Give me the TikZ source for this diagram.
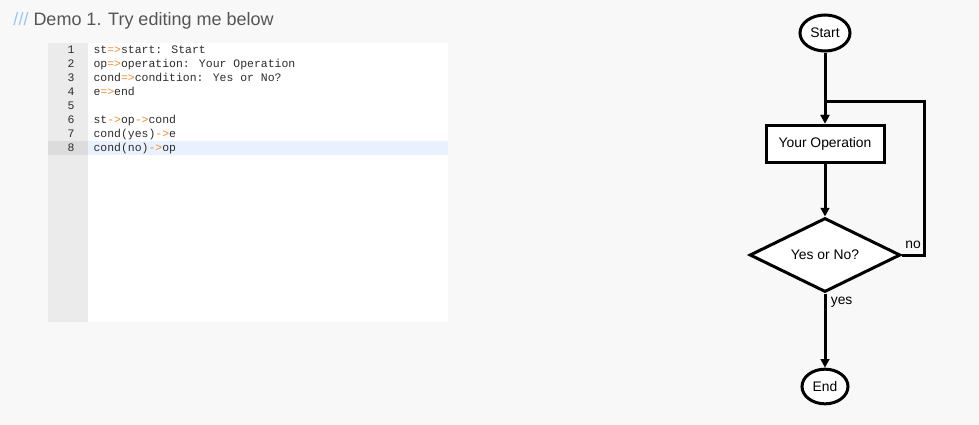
\documentclass[tikz,border=0pt]{standalone}
\usepackage{fontspec}
\usepackage{xcolor}
\usepackage{tikz}
\usetikzlibrary{shapes.geometric,arrows.meta}
\setmainfont{Liberation Sans}
\newfontfamily\codefont{Liberation Mono}

\definecolor{pagebg}{RGB}{248,248,248}
\definecolor{gutterbg}{RGB}{235,235,235}
\definecolor{guttersel}{RGB}{220,220,220}
\definecolor{linesel}{RGB}{232,242,254}
\definecolor{arrowop}{RGB}{240,140,40}
\definecolor{codetext}{RGB}{45,45,45}
\definecolor{slashblue}{RGB}{150,200,240}
\definecolor{titlegray}{RGB}{85,85,85}

\newcommand{\opc}[1]{\textcolor{arrowop}{#1}}

\begin{document}
\begin{tikzpicture}[x=0.75pt, y=-0.75pt, line width=2.25pt,
    flowline/.style={-{Triangle[length=6.5pt,width=6.5pt]}, line join=miter},
    terminal/.style={ellipse, draw, fill=white, inner sep=0pt, font=\fontsize{10.4}{12}\selectfont},
    process/.style={rectangle, draw, fill=white, inner sep=0pt, minimum width=88.5pt, minimum height=27.75pt, font=\fontsize{10.4}{12}\selectfont},
    decision/.style={diamond, draw, fill=white, aspect=2, inner sep=0pt, minimum width=113pt, minimum height=55.5pt, font=\fontsize{10.4}{12}\selectfont},
    edgelabel/.style={inner sep=1pt, font=\fontsize{10.4}{12}\selectfont},
    codeline/.style={anchor=west, inner sep=0pt, text height=6.5pt, text depth=2pt, text=codetext, font=\codefont\fontsize{8.6}{10}\selectfont},
    lineno/.style={codeline, anchor=east}]
    % Fondo
    \fill[pagebg] (0,0) rectangle (979,425);
    \useasboundingbox (0,0) rectangle (979,425);

    % Titulo
    \node[anchor=west, inner sep=0pt, font=\fontsize{13.5}{16}\selectfont] (title) at (12,21)
        {\textcolor{slashblue}{///}\ \textcolor{titlegray}{Demo 1. Try editing me below}};

    % Editor
    \fill[white] (88,43) rectangle (448,322);
    \fill[gutterbg] (48,43) rectangle (88,322);
    \fill[linesel] (88,141) rectangle (448,155);
    \fill[guttersel] (48,141) rectangle (88,155);
    \foreach \i/\code in {1/{st\opc{=>}start: Start},
                          2/{op\opc{=>}operation: Your Operation},
                          3/{cond\opc{=>}condition: Yes or No?},
                          4/{e\opc{=>}end},
                          5/{},
                          6/{st\opc{->}op\opc{->}cond},
                          7/{cond(yes)\opc{->}e},
                          8/{cond(no)\opc{->}op}} {
        \node[lineno] (num\i) at (76,36+14*\i) {\i};
        \node[codeline] (code\i) at (92,36+14*\i) {\code};
    }

    % Diagrama de flujo
    \node[terminal, minimum width=37.5pt, minimum height=27pt] (st) at (825,33) {Start};
    \node[process] (op) at (825,143.5) {Your Operation};
    \node[decision] (cond) at (825,255) {Yes or No?};
    \node[terminal, minimum width=34.5pt, minimum height=26pt] (e) at (825,386.5) {End};
    \coordinate (loopcorner) at (924,101);
    \coordinate (loopjoin) at (825,101);

    \draw[flowline] (st) -- (op);
    \draw[flowline] (op) -- (cond);
    \draw[flowline] (cond.south) -- (e);
    \draw[flowline] (cond.east) -| (loopcorner) -- (loopjoin) -- (op.north);

    \node[edgelabel, anchor=west] (yeslbl) at (828,302) {yes};
    \node[edgelabel] (nolbl) at (913,245) {no};
\end{tikzpicture}
\end{document}
